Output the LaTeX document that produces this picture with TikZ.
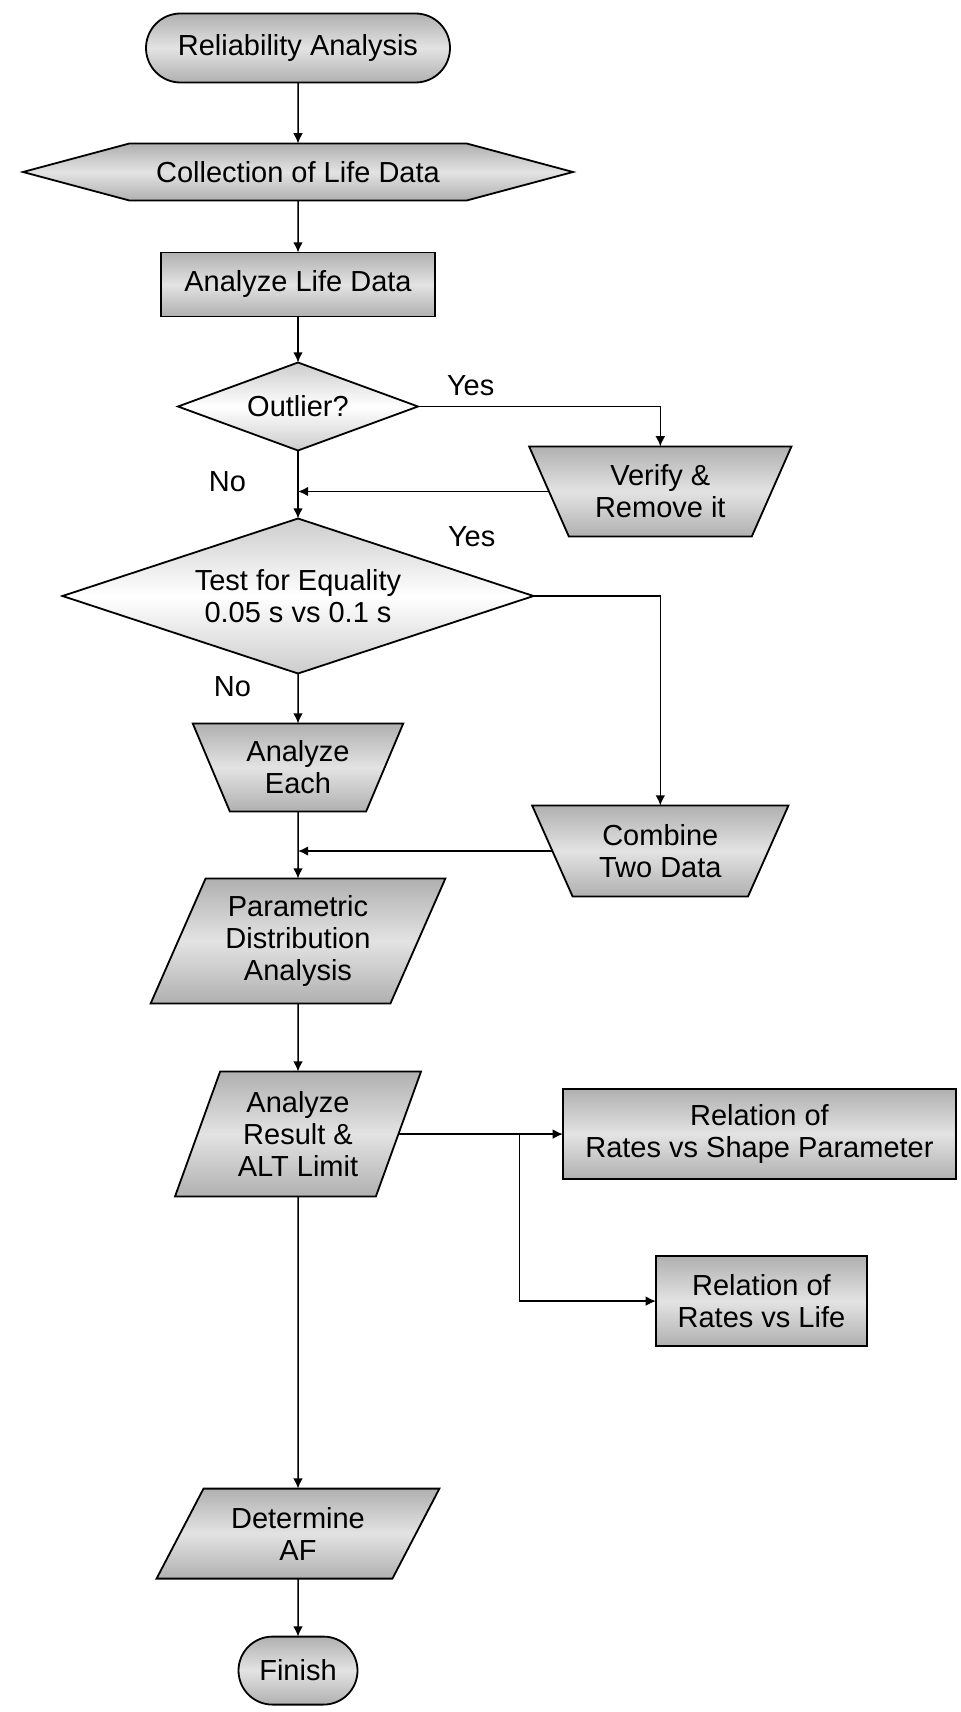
\documentclass[tikz,border=0pt]{standalone}
\usepackage{fontspec}
\setmainfont{Liberation Sans}
\usetikzlibrary{shapes.geometric,shapes.misc,shapes.symbols,arrows.meta,positioning}

\begin{document}
\begin{tikzpicture}[node distance=0.8cm, every node/.style={font=\fontsize{14.5}{16}\selectfont,align=center,outer sep=0pt},
  shade3/.style={draw=black,line width=0.9pt,top color=gray!62,bottom color=gray!62,middle color=gray!22},
  light3/.style={draw=black,line width=0.9pt,top color=gray!40,bottom color=gray!40,middle color=white},
  terminal/.style={shade3,rounded rectangle,inner sep=2pt},
  hexa/.style={shade3,signal,signal to=east and west,signal pointer angle=30,inner sep=1pt},
  procbox/.style={shade3,rectangle,inner sep=2pt},
  decision/.style={light3,diamond,aspect=2.9,inner sep=0pt},
  trap/.style={shade3,trapezium,trapezium left angle=117,trapezium right angle=117,trapezium stretches=true,inner sep=1pt},
  para/.style 2 args={shade3,trapezium,trapezium left angle=#1,trapezium right angle=#2,trapezium stretches=true,inner sep=1pt},
  lbl/.style={inner sep=0pt},
  arr/.style={-{Latex[length=1.8mm,width=1.7mm]},line width=0.75pt}]
  \useasboundingbox (0,0) rectangle (480pt,-856pt);
  % main column
  \node[terminal,minimum width=156pt,minimum height=34.5pt] (start) at (149pt,-24pt) {Reliability Analysis};
  \node[hexa,minimum width=275pt,minimum height=28.5pt,below=30.5pt of start] (collect) {Collection of Life Data};
  \node[procbox,minimum width=137pt,minimum height=32pt,below=26pt of collect] (analyze) {Analyze Life Data};
  \node[decision,minimum width=120pt,minimum height=44pt,below=23pt of analyze] (outlier) {Outlier?};
  \node[decision,minimum width=235.5pt,minimum height=77.5pt,below=34pt of outlier] (test) {Test for Equality\\0.05 s vs 0.1 s};
  \node[trap,minimum width=106pt,minimum height=44pt,below=25pt of test] (each) {Analyze\\Each};
  \node[para={65}{115},minimum width=147.5pt,minimum height=62.5pt,below=33.5pt of each] (param) {Parametric\\Distribution\\Analysis};
  \node[para={68}{112},minimum width=124pt,minimum height=62.5pt,below=34pt of param] (result) {Analyze\\Result \&\\ALT Limit};
  \node[para={59}{121},minimum width=141.5pt,minimum height=45pt,below=146pt of result] (det) {Determine\\AF};
  \node[terminal,minimum width=63.5pt,minimum height=34pt,below=29pt of det] (finish) {Finish};
  % side branches
  \node[trap,minimum width=132pt,minimum height=45pt,right=65.5pt of outlier,yshift=-42.5pt] (verify) {Verify \&\\Remove it};
  \node[trap,minimum width=128.5pt,minimum height=45.5pt,below=134.5pt of verify] (combine) {Combine\\Two Data};
  \node[procbox,minimum width=196.5pt,minimum height=45pt,right=82.25pt of result] (rel1) {Relation of\\Rates vs Shape Parameter};
  \node[procbox,minimum width=105.5pt,minimum height=45pt,below=38.5pt of rel1,xshift=1pt] (rel2) {Relation of\\Rates vs Life};
  \coordinate[right=60.5pt of result.east] (split);
  % labels
  \node[lbl,below right=6.5pt and 74.5pt of outlier.north] (yes1) {Yes};
  \node[lbl,below right=4pt and 75pt of test.north] (yes2) {Yes};
  \node[lbl,below left=10.5pt and 26pt of outlier.south] (no1) {No};
  \node[lbl,below left=1.5pt and 23.5pt of test.south] (no2) {No};
  % connectors
  \foreach \x/\y in {start/collect,collect/analyze,analyze/outlier,outlier/test,test/each,each/param,param/result,result/det,det/finish}{\draw[arr] (\x)--(\y);}
  \draw[arr] (outlier.east) -| (verify.north);
  \draw[arr] (verify.west) -- (verify.west -| outlier.south);
  \draw[arr] (test.east) -| (combine.north);
  \draw[arr] (combine.west) -- (combine.west -| each.south);
  \draw[arr] (result.east) -- (rel1.west);
  \draw[arr] (split) |- (rel2.west);
\end{tikzpicture}
\end{document}
